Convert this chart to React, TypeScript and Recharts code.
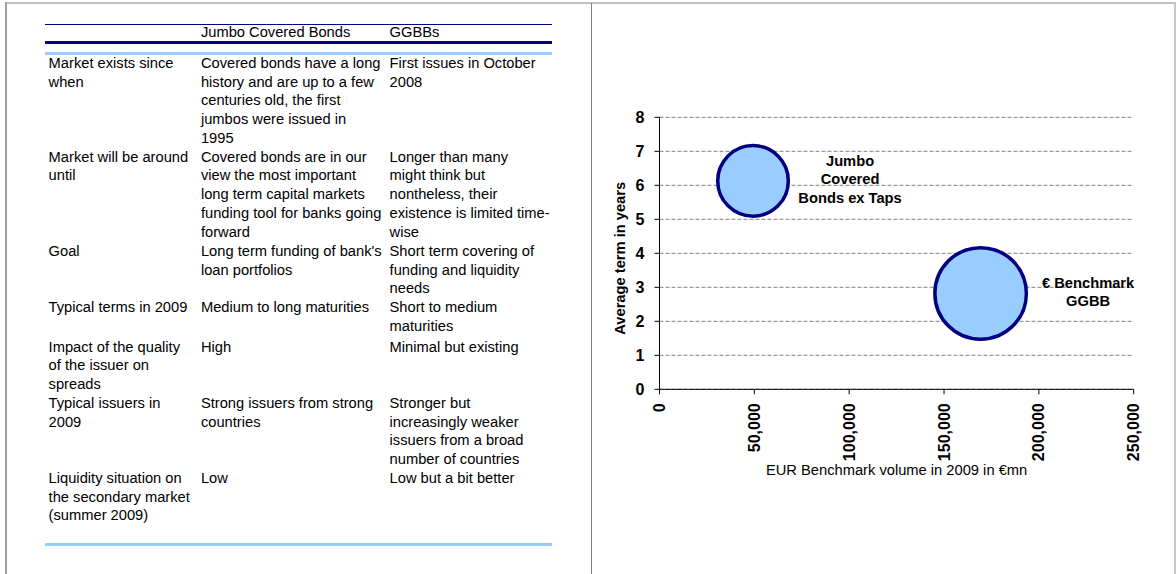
import { ScatterChart, Scatter, XAxis, YAxis, ZAxis, CartesianGrid } from "recharts";

// left-hand comparison table, one list of text lines per cell
const rowLabels = [
  ["Market exists since", "when"],
  ["Market will be around", "until"],
  ["Goal"],
  ["Typical terms in 2009"],
  ["Impact of the quality", "of the issuer on", "spreads"],
  ["Typical issuers in", "2009"],
  ["Liquidity situation on", "the secondary market", "(summer 2009)"],
];
const jumboCells = [
  ["Covered bonds have a long", "history and are up to a few", "centuries old, the first", "jumbos were issued in", "1995"],
  ["Covered bonds are in our", "view the most important", "long term capital markets", "funding tool for banks going", "forward"],
  ["Long term funding of bank's", "loan portfolios"],
  ["Medium to long maturities"],
  ["High"],
  ["Strong issuers from strong", "countries"],
  ["Low"],
];
const ggbbCells = [
  ["First issues in October", "2008"],
  ["Longer than many", "might think but", "nontheless, their", "existence is limited time-", "wise"],
  ["Short term covering of", "funding and liquidity", "needs"],
  ["Short to medium", "maturities"],
  ["Minimal but existing"],
  ["Stronger but", "increasingly weaker", "issuers from a broad", "number of countries"],
  ["Low but a bit better"],
];
const tableHeaders = ["", "Jumbo Covered Bonds", "GGBBs"];

// bubble chart
const bubbleNames = ["Jumbo Covered Bonds ex Taps", "€ Benchmark GGBB"];
const bubbleLabels = [["Jumbo", "Covered", "Bonds ex Taps"], ["€ Benchmark", "GGBB"]];
const volumes = [49300, 169300]; // EUR benchmark volume 2009, €mn
const avgTerms = [6.13, 2.82]; // average term in years
const bubbleSizes = [100, 168];
const xTicks = [0, 50000, 100000, 150000, 200000, 250000];
const yTicks = [0, 1, 2, 3, 4, 5, 6, 7, 8];

const FONT = '"Liberation Sans", Arial, sans-serif';
const NAVY = "#000080";
const LIGHT_BLUE = "#99CCFF";
const TICK_SIZE = 16;

const bubbleData = bubbleNames.map((name, i) => ({
  name,
  label: bubbleLabels[i],
  volume: volumes[i],
  term: avgTerms[i],
  size: bubbleSizes[i],
}));

function VolumeTick(props: any) {
  const { x, y, payload } = props;
  return (
    <text
      x={x}
      y={y}
      transform={`rotate(-90, ${x}, ${y})`}
      textAnchor="end"
      dominantBaseline="central"
      fontFamily={FONT}
      fontSize={TICK_SIZE}
      fontWeight="bold"
      fill="#000"
    >
      {Number(payload.value).toLocaleString("en-US")}
    </text>
  );
}

// circle plus its data label to the right
function Bubble(props: any) {
  const { cx, cy, payload } = props;
  const r = props.size != null ? Math.sqrt(props.size / Math.PI) : props.width / 2;
  const lines: string[] = payload.label;
  const lx = cx + r + 1.75 + 60;
  const lineH = 18.3;
  const first = cy - 1.5 - ((lines.length - 1) / 2) * lineH;
  return (
    <g>
      <circle cx={cx} cy={cy} r={r} fill={LIGHT_BLUE} stroke={NAVY} strokeWidth={3.5} />
      {lines.map((t, i) => (
        <text
          key={i}
          x={lx}
          y={first + i * lineH}
          textAnchor="middle"
          dominantBaseline="central"
          fontFamily={FONT}
          fontSize={14.7}
          fontWeight="bold"
          fill="#000"
        >
          {t}
        </text>
      ))}
    </g>
  );
}

function Cell(props: { lines: string[]; width: number }) {
  return (
    <div style={{ width: props.width, flex: "none", whiteSpace: "nowrap" }}>
      {props.lines.map((l, i) => (
        <div key={i}>{l}</div>
      ))}
    </div>
  );
}

export default function App() {
  const colW = [152.3, 188.7, 165];
  return (
    <div
      style={{
        position: "absolute",
        left: 0,
        top: 0,
        width: 1176,
        height: 574,
        background: "#fff",
        overflow: "hidden",
        fontFamily: FONT,
        fontSize: 14.7,
        lineHeight: "18.75px",
        color: "#000",
      }}
    >
      {/* frame */}
      <div style={{ position: "absolute", left: 5, top: 2, width: 1171, height: 2, background: "#c0c0c0" }} />
      <div style={{ position: "absolute", left: 5, top: 2, width: 2, height: 572, background: "#a0a0a0" }} />
      <div style={{ position: "absolute", left: 591, top: 3, width: 1, height: 571, background: "#808080" }} />
      <div style={{ position: "absolute", left: 1174, top: 2, width: 2, height: 572, background: "#c8c8c8" }} />

      {/* table rules */}
      <div style={{ position: "absolute", left: 45, top: 24, width: 507, height: 1, background: NAVY }} />
      <div style={{ position: "absolute", left: 45, top: 41, width: 507, height: 3, background: NAVY }} />
      <div style={{ position: "absolute", left: 45, top: 52, width: 507, height: 3, background: LIGHT_BLUE }} />
      <div style={{ position: "absolute", left: 45, top: 543, width: 507, height: 3, background: LIGHT_BLUE }} />

      {/* header */}
      <div style={{ position: "absolute", left: 48.6, top: 23.3, display: "flex" }}>
        {tableHeaders.map((h, i) => (
          <Cell key={i} lines={[h]} width={colW[i]} />
        ))}
      </div>

      {/* body */}
      <div style={{ position: "absolute", left: 48.6, top: 53.8 }}>
        {rowLabels.map((lab, i) => (
          <div key={i} style={{ display: "flex", marginTop: i === 4 ? 2 : i === 2 ? 0.5 : 0 }}>
            <Cell lines={lab} width={colW[0]} />
            <Cell lines={jumboCells[i]} width={colW[1]} />
            <Cell lines={ggbbCells[i]} width={colW[2]} />
          </div>
        ))}
      </div>

      {/* chart */}
      <div style={{ position: "absolute", left: 592, top: 0 }}>
        <ScatterChart
          width={584}
          height={574}
          margin={{ top: 117.3, right: 42.3, left: 7.5, bottom: 94.7 }}
        >
          <CartesianGrid vertical={false} stroke="#808080" strokeDasharray="4 2" />
          <XAxis
            type="number"
            dataKey="volume"
            domain={[0, 250000]}
            ticks={xTicks}
            interval={0}
            height={90}
            tickSize={5}
            tickMargin={9}
            axisLine={{ stroke: "#000" }}
            tickLine={{ stroke: "#000" }}
            tick={<VolumeTick />}
            label={{
              value: "EUR Benchmark volume in 2009 in €mn",
              position: "insideBottom",
              offset: 4.3,
              style: { fontFamily: FONT, fontSize: 14.7, fill: "#000" },
            }}
          />
          <YAxis
            type="number"
            dataKey="term"
            domain={[0, 8]}
            ticks={yTicks}
            interval={0}
            width={60}
            tickSize={5}
            tickMargin={10}
            axisLine={{ stroke: "#000" }}
            tickLine={{ stroke: "#000" }}
            tick={{ fontFamily: FONT, fontSize: TICK_SIZE, fontWeight: "bold", fill: "#000" }}
            label={{
              value: "Average term in years",
              angle: -90,
              position: "insideLeft",
              offset: 20,
              dy: 5,
              style: { fontFamily: FONT, fontSize: 14.7, fontWeight: "bold", fill: "#000", textAnchor: "middle" },
            }}
          />
          <ZAxis type="number" dataKey="size" domain={[0, 200]} range={[0, 7827]} />
          <Scatter data={bubbleData} shape={<Bubble />} isAnimationActive={false} />
        </ScatterChart>
      </div>
    </div>
  );
}
